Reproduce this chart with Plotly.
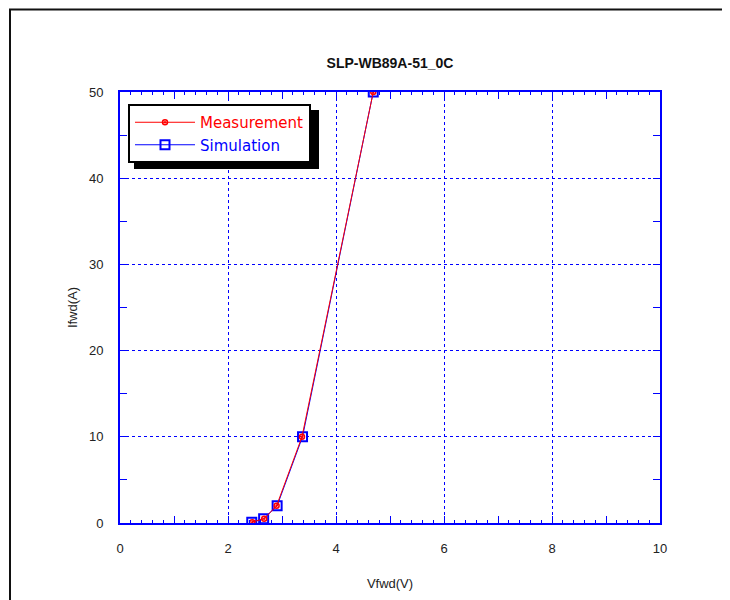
import plotly.graph_objects as go

# Data
meas_v = [2.45, 2.67, 2.90, 3.37, 4.69]
meas_i = [0.1, 0.5, 2.0, 10.0, 50.0]
sim_v = [2.44, 2.66, 2.91, 3.38, 4.69]
sim_i = [0.1, 0.5, 2.0, 10.0, 50.0]

title_text = "SLP-WB89A-51_0C"
x_title = "Vfwd(V)"
y_title = "Ifwd(A)"

BLUE = "#0000ff"
RED = "#ff0000"
OFF = 8  # page body margin
W, H = 730 - OFF, 600 - OFF
# target plot area in screen pixels: x 120..660, y 92..523
L, T = 120 - OFF, 92 - OFF
R = W - (660 - OFF)
B = H - (523 - OFF)
pw, ph = W - L - R, H - T - B

def px_x(sx):
    return (sx - 120) / pw

def px_y(sy):
    return 1 - (sy - 92) / ph

fig = go.Figure()
fig.add_trace(go.Scatter(
    x=sim_v, y=sim_i, mode="lines+markers",
    name='<span style="color:#0000ff">Simulation</span>',
    line=dict(color=BLUE, width=1),
    marker=dict(symbol="square-open", size=9, color=BLUE, line=dict(width=2, color=BLUE)),
))
fig.add_trace(go.Scatter(
    x=meas_v, y=meas_i, mode="lines+markers",
    name='<span style="color:#ff0000">Measurement</span>',
    line=dict(color=RED, width=1),
    marker=dict(symbol="circle-open-dot", size=5, color=RED, line=dict(width=1.5, color=RED)),
))
# overlay axis for medium ticks at every integer
fig.add_trace(go.Scatter(x=[0, 10], y=[0, 0], mode="lines", line=dict(width=0),
                         xaxis="x2", showlegend=False, hoverinfo="skip"))

fig.update_layout(
    width=W, height=H,
    margin=dict(l=L, r=R, t=T, b=B),
    paper_bgcolor="white", plot_bgcolor="white",
    font=dict(family="Liberation Sans, Arial, sans-serif", size=12, color="#222222"),
    title=dict(text="<b>" + title_text + "</b>", x=(390 - OFF) / W, xanchor="center",
               y=1 - (63 - OFF) / H, yanchor="middle",
               font=dict(size=14, color="#111111", family="Liberation Sans, Arial, sans-serif")),
    showlegend=True,
    legend=dict(x=px_x(128), y=px_y(104), xanchor="left", yanchor="top",
                bgcolor="white", bordercolor="#000000", borderwidth=2,
                font=dict(size=15, family="DejaVu Sans, sans-serif"),
                traceorder="reversed", tracegroupgap=0, itemwidth=60),
    xaxis=dict(range=[0, 10], dtick=2, tick0=0, showgrid=True,
               gridcolor=BLUE, griddash="dot", gridwidth=1,
               showline=True, linecolor=BLUE, linewidth=2, mirror="allticks",
               ticks="inside", ticklen=7, tickcolor=BLUE, tickwidth=1,
               minor=dict(dtick=0.2, ticks="inside", ticklen=3, tickcolor=BLUE, showgrid=False),
               zeroline=False, ticklabelstandoff=12,
               title=dict(text=x_title, font=dict(size=13), standoff=24),
               tickfont=dict(size=13)),
    xaxis2=dict(range=[0, 10], overlaying="x", side="bottom", dtick=1, tick0=0,
                ticks="inside", ticklen=7, tickcolor=BLUE, showticklabels=False,
                showgrid=False, zeroline=False, showline=False, mirror="allticks"),
    yaxis=dict(range=[0, 50], dtick=10, tick0=0, showgrid=True,
               gridcolor=BLUE, griddash="dot", gridwidth=1,
               showline=True, linecolor=BLUE, linewidth=2, mirror="allticks",
               ticks="inside", ticklen=7, tickcolor=BLUE,
               minor=dict(dtick=5, ticks="inside", ticklen=7, tickcolor=BLUE, showgrid=False),
               zeroline=False, ticklabelstandoff=12,
               title=dict(text=y_title, font=dict(size=13), standoff=8),
               tickfont=dict(size=13)),
)

# outer frame of the original figure window
fig.add_shape(type="rect", xref="paper", yref="paper",
              x0=px_x(10), x1=px_x(760),
              y0=px_y(640), y1=px_y(9.5),
              line=dict(color="#111111", width=2), layer="below")
# legend drop shadow
lx0, ly0, lx1, ly1 = 128, 104, 313, 163
fig.add_shape(type="rect", xref="paper", yref="paper",
              x0=px_x(lx0 + 6), x1=px_x(lx1 + 6),
              y0=px_y(ly1 + 6), y1=px_y(ly0 + 6),
              line=dict(width=0), fillcolor="#000000", layer="above")

fig.write_html("out.html")
